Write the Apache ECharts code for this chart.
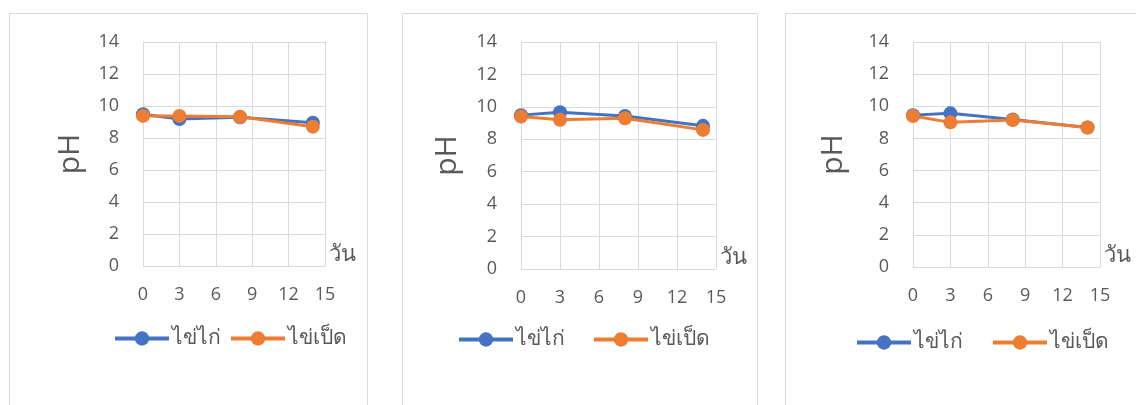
<!DOCTYPE html>
<html>
<head>
<meta charset="utf-8">
<script src="https://cdn.jsdelivr.net/npm/echarts@6/dist/echarts.min.js"></script>
<style>
  html, body { margin: 0; padding: 0; background: #fff; }
  #chart { width: 1136px; height: 405px; }
</style>
</head>
<body>
<div id="chart"></div>
<script>
// วันที่วัด
const days = [0, 3, 8, 14];
const xTicks = [0, 3, 6, 9, 12, 15];
const yTicks = [0, 2, 4, 6, 8, 10, 12, 14];
const seriesNames = ["ไข่ไก่", "ไข่เป็ด"];

// ค่า pH ของแต่ละกราฟ
const chicken1 = [9.48, 9.19, 9.29, 8.96];
const duck1 = [9.38, 9.38, 9.33, 8.71];
const chicken2 = [9.49, 9.67, 9.44, 8.83];
const duck2 = [9.4, 9.2, 9.3, 8.58];
const chicken3 = [9.45, 9.56, 9.18, 8.68];
const duck3 = [9.39, 9.0, 9.14, 8.68];

const chickenData = [chicken1, chicken2, chicken3];
const duckData = [duck1, duck2, duck3];

const colors = ["#4472C4", "#ED7D31"];
const font = "'Open Sans', 'Noto Sans', sans-serif";

// ตำแหน่งแต่ละแผง
const panels = [
  { box: [9, 13, 358, 400], grid: [143, 42, 182, 224], nameGap: 73, legendLeft: 113, legendGap: 8, legendTop: 339 },
  { box: [402, 13, 355, 400], grid: [521, 42, 195, 227], nameGap: 74, legendLeft: 457, legendGap: 27, legendTop: 340 },
  { box: [785, 13, 360, 400], grid: [913, 42, 187, 225], nameGap: 80, legendLeft: 855, legendGap: 28, legendTop: 343 }
];

const myChart = echarts.init(document.getElementById("chart"));

const option = {
  animation: false,
  color: colors,
  graphic: panels.map(p => ({
    type: "rect",
    shape: { x: p.box[0] + 0.5, y: p.box[1] + 0.5, width: p.box[2], height: p.box[3] },
    style: { fill: "none", stroke: "#d9d9d9", lineWidth: 1 },
    silent: true
  })),
  grid: panels.map(p => ({
    left: p.grid[0],
    top: p.grid[1],
    width: p.grid[2],
    height: p.grid[3],
    containLabel: false
  })),
  legend: panels.map(p => ({
    data: seriesNames,
    left: p.legendLeft,
    top: p.legendTop - 11,
    padding: 0,
    itemWidth: 54,
    itemHeight: 18,
    itemGap: p.legendGap,
    lineStyle: { width: 4 },
    textStyle: { fontSize: 21, color: "#595959", fontFamily: font, padding: [0, 0, 0, -2] }
  })),
  xAxis: panels.map((p, i) => ({
    type: "value",
    gridIndex: i,
    min: xTicks[0],
    max: xTicks[xTicks.length - 1],
    interval: 3,
    name: "วัน",
    nameLocation: "end",
    nameGap: 4,
    nameTextStyle: { fontSize: 22, color: "#595959", fontFamily: font, align: "left", verticalAlign: "bottom" },
    axisLine: { show: true, lineStyle: { color: "#d9d9d9", width: 1 } },
    axisTick: { show: false },
    axisLabel: { fontSize: 18, color: "#595959", fontFamily: font, margin: 20 },
    splitLine: { show: true, lineStyle: { color: "#d9d9d9", width: 1 } }
  })),
  yAxis: panels.map((p, i) => ({
    type: "value",
    gridIndex: i,
    min: yTicks[0],
    max: yTicks[yTicks.length - 1],
    interval: 2,
    name: "pH",
    nameLocation: "middle",
    nameGap: p.nameGap,
    nameRotate: 90,
    nameTextStyle: { fontSize: 30, color: "#595959", fontFamily: font, verticalAlign: "middle" },
    axisLine: { show: true, lineStyle: { color: "#d9d9d9", width: 1 } },
    axisTick: { show: false },
    axisLabel: { fontSize: 18, color: "#595959", fontFamily: font, margin: 24 },
    splitLine: { show: true, lineStyle: { color: "#d9d9d9", width: 1 } }
  })),
  series: []
};

panels.forEach((p, i) => {
  [chickenData[i], duckData[i]].forEach((vals, k) => {
    option.series.push({
      name: seriesNames[k],
      type: "line",
      xAxisIndex: i,
      yAxisIndex: i,
      data: days.map((d, j) => [d, vals[j]]),
      symbol: "circle",
      symbolSize: 14,
      lineStyle: { width: 3, color: colors[k] },
      itemStyle: { color: colors[k] }
    });
  });
});

myChart.setOption(option);
</script>
</body>
</html>
